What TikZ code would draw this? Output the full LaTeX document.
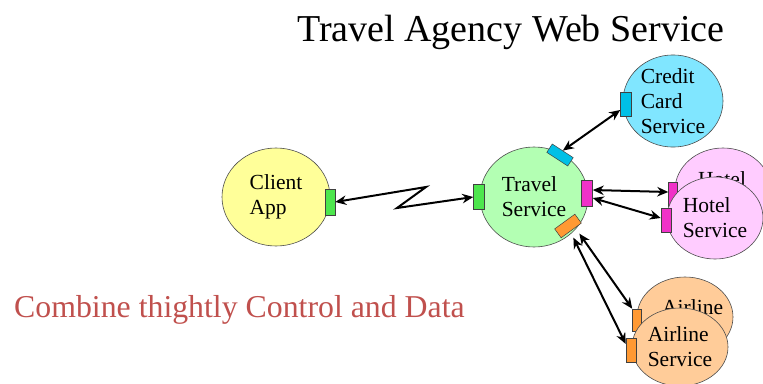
\documentclass[tikz,border=0pt]{standalone}
\usepackage{fontspec}
\setmainfont{Liberation Serif}
\usetikzlibrary{arrows.meta,shapes.geometric}
\definecolor{clientfill}{RGB}{255,255,153}
\definecolor{travelfill}{RGB}{179,255,179}
\definecolor{creditfill}{RGB}{128,230,255}
\definecolor{hotelfill}{RGB}{255,204,255}
\definecolor{airfill}{RGB}{255,204,153}
\definecolor{portgreen}{RGB}{77,230,77}
\definecolor{portcyan}{RGB}{0,192,230}
\definecolor{portpink}{RGB}{240,50,200}
\definecolor{portorange}{RGB}{255,153,51}
\definecolor{noteRed}{RGB}{192,80,77}
\tikzset{
	svc/.style={ellipse, draw=black!70, line width=0.6pt, inner sep=0pt, align=left, font=\fontsize{21.5}{25}\selectfont},
	port/.style={rectangle, draw=black!75, line width=0.5pt, inner sep=0pt},
	link/.style={{Stealth[length=11pt,width=9.5pt]}-{Stealth[length=11pt,width=9.5pt]}, line width=2pt}
}

\begin{document}
\begin{tikzpicture}[x=1pt, y=-1pt]
		%%%%% START %%%%%
		\useasboundingbox (0, 0) rectangle (763, 383);
		
		\node[anchor=base west, inner sep=0pt, font=\fontsize{38}{40}\selectfont] (title) at (297, 41) {Travel Agency Web Service};
		\node[anchor=base west, inner sep=0pt, text=noteRed, font=\fontsize{31.8}{34}\selectfont] (note) at (14, 317) {Combine thightly Control and Data};
		
		\node[svc, fill=clientfill, minimum width=108pt, minimum height=98pt] (client) at (276, 197) {Client\\App};
		\node[port, fill=portgreen, minimum width=10pt, minimum height=26pt] (cport) at (330, 202) {};
		
		\node[svc, fill=travelfill, minimum width=108pt, minimum height=100pt] (travel) at (534, 197) {Travel\\Service};
		\node[port, fill=portgreen, minimum width=11pt, minimum height=25pt] (tlport) at (479, 197) {};
		\node[port, fill=portcyan, minimum width=25pt, minimum height=10pt, rotate=-33] (ttport) at (560, 155) {};
		\node[port, fill=portpink, minimum width=11pt, minimum height=26pt] (trport) at (587, 193) {};
		\node[port, fill=portorange, minimum width=25pt, minimum height=11pt, rotate=36] (toport) at (568, 226) {};
		
		\node[svc, fill=creditfill, minimum width=100pt, minimum height=84pt] (credit) at (673, 101) {Credit\\Card\\Service};
		\node[port, fill=portcyan, minimum width=11pt, minimum height=24pt] (ccport) at (626, 104) {};
		
		% hotel pair
		\node[svc, fill=hotelfill, minimum width=96pt, minimum height=84pt, anchor=center] (hotelb) at (723, 190) {};
		\node[font=\fontsize{21.5}{25}\selectfont, anchor=base west, inner sep=0pt] (hbtext) at (698, 186) {Hotel};
		\node[port, fill=portpink, minimum width=9pt, minimum height=24pt] (hbport) at (673, 194) {};
		\node[svc, fill=hotelfill, minimum width=96pt, minimum height=82pt] (hotelf) at (715, 218) {Hotel\\Service};
		\node[port, fill=portpink, minimum width=10pt, minimum height=24pt] (hfport) at (666, 220) {};
		
		% airline pair
		\node[svc, fill=airfill, minimum width=96pt, minimum height=80pt] (airb) at (685, 317) {};
		\node[font=\fontsize{21.5}{25}\selectfont, anchor=base west, inner sep=0pt] (abtext) at (662, 314) {Airline};
		\node[port, fill=portorange, minimum width=9pt, minimum height=22pt] (abport) at (637, 320) {};
		\node[svc, fill=airfill, minimum width=96pt, minimum height=78pt] (airf) at (680, 347) {Airline\\Service};
		\node[port, fill=portorange, minimum width=10pt, minimum height=24pt] (afport) at (631, 350) {};
		
		\coordinate (zig1) at (426, 187);
		\coordinate (zig2) at (397, 208);
		\draw[link] (cport.east) -- (zig1) -- (zig2) -- (tlport.west);
		\draw[link] (ttport.north) -- ([yshift=-6pt]ccport.west);
		\draw[link] ([yshift=3pt]trport.east) -- ([yshift=2pt]hbport.west);
		\draw[link] ([yshift=-5pt]trport.east) -- ([yshift=2pt]hfport.west);
		\draw[link] ([xshift=8pt, yshift=-3pt]toport.south) -- (abport.north west);
		\draw[link] ([xshift=2pt, yshift=-7pt]toport.south) -- ([yshift=6pt]afport.west);
		
		%%%%% END %%%%%
	\end{tikzpicture}
\end{document}
